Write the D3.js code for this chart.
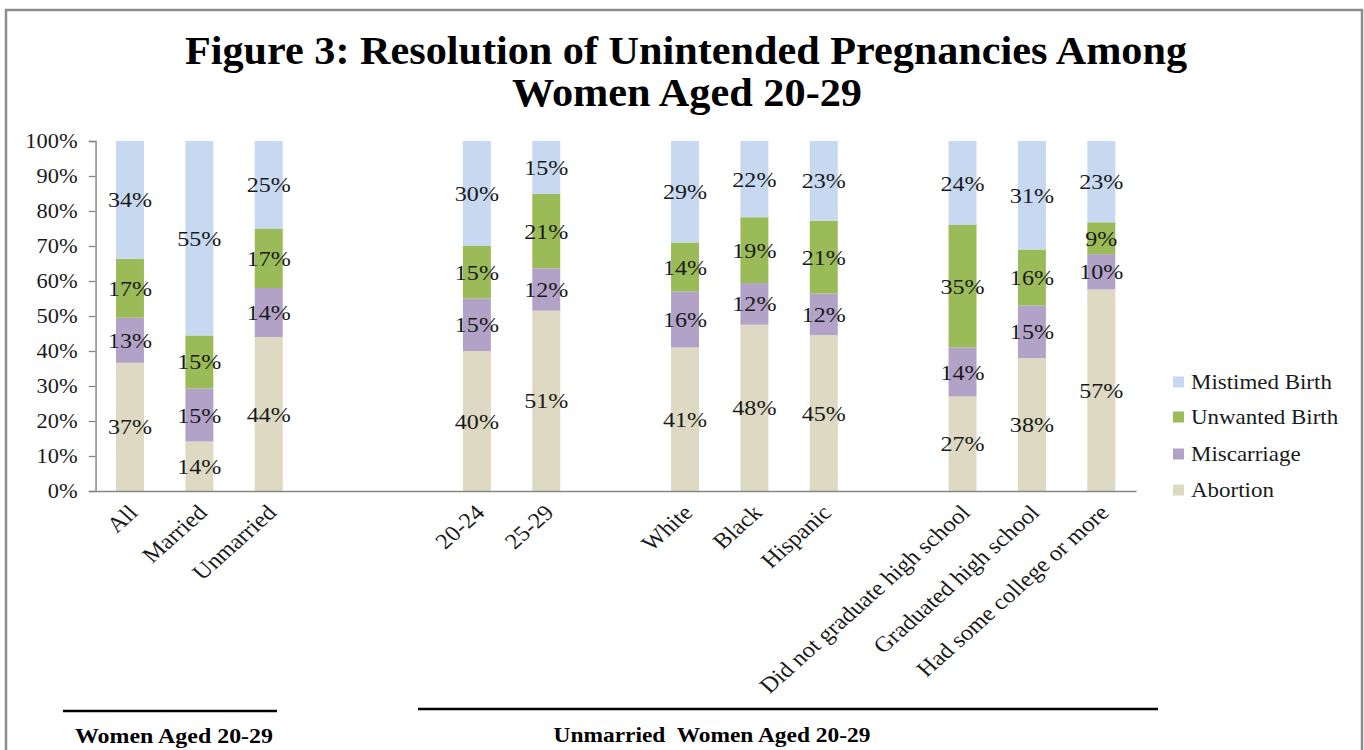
<!DOCTYPE html>
<html>
<head>
<meta charset="utf-8">
<script src="https://cdn.jsdelivr.net/npm/d3@7"></script>
<style>
  html, body { margin: 0; padding: 0; background: #fff; }
  svg { display: block; }
  text { font-family: "Liberation Serif", "Times New Roman", serif; }
</style>
</head>
<body>
<script>
// Resolution of unintended pregnancies, women aged 20-29 (percent of each group)
const categories = [
  "All", "Married", "Unmarried",
  "20-24", "25-29",
  "White", "Black", "Hispanic",
  "Did not graduate high school", "Graduated high school", "Had some college or more"
];
const abortion    = [37, 14, 44, 40, 51, 41, 48, 45, 27, 38, 57];
const miscarriage = [13, 15, 14, 15, 12, 16, 12, 12, 14, 15, 10];
const unwanted    = [17, 15, 17, 15, 21, 14, 19, 21, 35, 16,  9];
const mistimed    = [34, 55, 25, 30, 15, 29, 22, 23, 24, 31, 23];

const seriesNames = ["Abortion", "Miscarriage", "Unwanted Birth", "Mistimed Birth"];
const seriesColors = ["#DDD9C3", "#B3A2C7", "#9BBB59", "#C6D9F1"];
const yTickValues = [0, 0.1, 0.2, 0.3, 0.4, 0.5, 0.6, 0.7, 0.8, 0.9, 1.0];

// empty slots that separate the sub-groups on the category axis
const gapsAfter = { "Unmarried": 2, "25-29": 1, "Hispanic": 1 };

const titleLines = ["Figure 3: Resolution of Unintended Pregnancies Among", "Women Aged 20-29"];
const groupLabels = ["Women Aged 20-29", "Unmarried  Women Aged 20-29"];

// ---------------------------------------------------------------------------
const W = 1364, H = 750;
const SX = 1.12;              // text and marks are drawn slightly widened
const ix = v => v / SX;       // screen x -> inner x

const slots = [];
categories.forEach(c => {
  slots.push(c);
  for (let k = 0; k < (gapsAfter[c] || 0); k++) slots.push(`gap-${c}-${k}`);
});

const rows = categories.map((c, i) => ({
  category: c,
  "Abortion": abortion[i],
  "Miscarriage": miscarriage[i],
  "Unwanted Birth": unwanted[i],
  "Mistimed Birth": mistimed[i]
}));

const svg = d3.select("body").append("svg")
  .attr("width", W).attr("height", H);

svg.append("rect").attr("width", W).attr("height", H).attr("fill", "#fff");

// outer frame
svg.append("rect")
  .attr("x", 6).attr("y", 10)
  .attr("width", 1356).attr("height", 770)
  .attr("fill", "none")
  .attr("stroke", "#8c8c8c")
  .attr("stroke-width", 2.5);

const g = svg.append("g").attr("transform", `scale(${SX},1)`);

const x = d3.scaleBand()
  .domain(slots)
  .range([ix(95.3), ix(1136)])
  .paddingInner(0.597)
  .paddingOuter(0.2985);

const y = d3.scaleLinear().domain([0, 1]).range([491, 141]);

const color = d3.scaleOrdinal().domain(seriesNames).range(seriesColors);

const stacked = d3.stack()
  .keys(seriesNames)
  .offset(d3.stackOffsetExpand)(rows);

// title
g.selectAll("text.title")
  .data(titleLines)
  .join("text")
  .attr("class", "title")
  .attr("x", (d, i) => ix(i === 0 ? 686 : 687))
  .attr("y", (d, i) => i === 0 ? 64 : 106)
  .attr("text-anchor", "middle")
  .attr("font-size", 40)
  .attr("font-weight", "bold")
  .attr("fill", "#000")
  .attr("textLength", (d, i) => ix(i === 0 ? 1002 : 350))
  .attr("lengthAdjust", "spacingAndGlyphs")
  .text(d => d);

// bars
const layers = g.append("g").selectAll("g")
  .data(stacked)
  .join("g")
  .attr("fill", d => color(d.key));

layers.selectAll("rect")
  .data(d => d)
  .join("rect")
  .attr("x", d => x(d.data.category))
  .attr("y", d => y(d[1]))
  .attr("width", x.bandwidth())
  .attr("height", d => y(d[0]) - y(d[1]));

// value labels
const labels = g.append("g");
stacked.forEach(layer => {
  labels.selectAll(null)
    .data(layer)
    .join("text")
    .attr("x", d => x(d.data.category) + x.bandwidth() / 2)
    .attr("y", d => (y(d[0]) + y(d[1])) / 2)
    .attr("dy", "0.35em")
    .attr("text-anchor", "middle")
    .attr("font-size", 21.5)
    .attr("fill", "#1a1a1a")
    .text(d => d.data[layer.key] + "%");
});

// y axis
const yAxis = g.append("g")
  .attr("transform", `translate(${ix(95.5)},0)`)
  .call(d3.axisLeft(y)
    .tickValues(yTickValues)
    .tickFormat(d3.format(".0%"))
    .tickSize(6)
    .tickPadding(10));
yAxis.select(".domain").attr("stroke", "#868686").attr("stroke-width", 1.3);
yAxis.selectAll(".tick line").attr("stroke", "#868686").attr("stroke-width", 1.3);
yAxis.selectAll(".tick text")
  .attr("font-size", 20)
  .attr("font-family", "'Liberation Serif', serif")
  .attr("fill", "#1a1a1a");

// x axis
const xAxis = g.append("g")
  .attr("transform", "translate(0,491)")
  .call(d3.axisBottom(x)
    .tickSize(0)
    .tickSizeOuter(0)
    .tickFormat(d => categories.includes(d) ? d : ""));
xAxis.select(".domain").attr("stroke", "#868686").attr("stroke-width", 1.3);
xAxis.selectAll(".tick text")
  .attr("x", 0).attr("y", 0).attr("dy", 0)
  .attr("text-anchor", "end")
  .attr("transform", `translate(${ix(9)},23) rotate(-45)`)
  .attr("font-size", 22)
  .attr("font-family", "'Liberation Serif', serif")
  .attr("fill", "#1a1a1a");

// legend
const legendKeys = seriesNames.slice().reverse();
const legendY = [382, 417, 454, 490];
const legend = g.append("g");
legend.selectAll("rect")
  .data(legendKeys)
  .join("rect")
  .attr("x", ix(1173))
  .attr("y", (d, i) => legendY[i] - 5.5)
  .attr("width", ix(11))
  .attr("height", 11)
  .attr("fill", d => color(d));
legend.selectAll("text")
  .data(legendKeys)
  .join("text")
  .attr("x", ix(1191))
  .attr("y", (d, i) => legendY[i])
  .attr("dy", "0.35em")
  .attr("font-size", 20.5)
  .attr("fill", "#1a1a1a")
  .text(d => d);

// group annotations below the axis
const groupLines = [[63, 277, 711], [418, 1158, 709]];
g.selectAll("line.group")
  .data(groupLines)
  .join("line")
  .attr("class", "group")
  .attr("x1", d => ix(d[0])).attr("x2", d => ix(d[1]))
  .attr("y1", d => d[2]).attr("y2", d => d[2])
  .attr("stroke", "#000")
  .attr("stroke-width", 2.5);

const groupText = [[174, 743, 198], [712, 742, 317]];
g.selectAll("text.group")
  .data(groupLabels)
  .join("text")
  .attr("class", "group")
  .attr("x", (d, i) => ix(groupText[i][0]))
  .attr("y", (d, i) => groupText[i][1])
  .attr("text-anchor", "middle")
  .attr("font-size", 21)
  .attr("font-weight", "bold")
  .attr("fill", "#000")
  .style("white-space", "pre")
  .attr("textLength", (d, i) => ix(groupText[i][2]))
  .attr("lengthAdjust", "spacingAndGlyphs")
  .text(d => d);
</script>
</body>
</html>
